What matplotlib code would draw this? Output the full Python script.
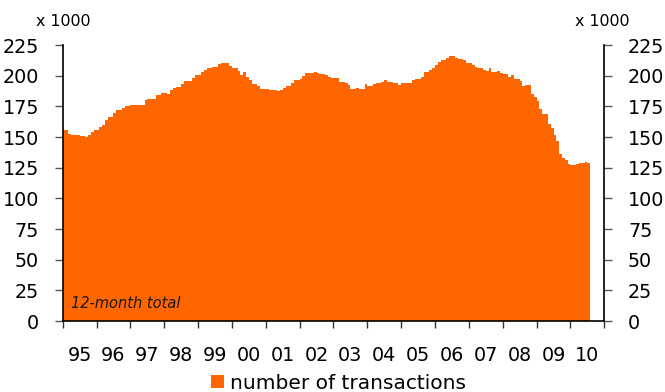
import numpy as np
import matplotlib
matplotlib.use('Agg')
import matplotlib.pyplot as plt

# 12-month total number of transactions, x 1000, monthly from Jan 1995 to Jul 2010
y1995 = [156, 156, 152.7, 152, 152, 152, 151, 151, 150, 152, 154, 156]
y1996 = [156, 158, 160, 164, 166, 166, 170, 172, 172, 174, 175.4, 175.4]
y1997 = [176.5, 176.5, 176.5, 176.5, 176.5, 180, 181, 181.4, 181.4, 184, 184, 186]
y1998 = [186, 185.5, 188.5, 190, 191, 191, 193.4, 195.5, 195.5, 195.5, 198.5, 201]
y1999 = [201, 203, 205, 206.7, 206.7, 207, 207, 209.5, 210, 210, 210, 208]
y2000 = [206.7, 206.7, 203.7, 200.5, 203, 199, 196.4, 193, 193, 191.7, 189.5, 189.5]
y2001 = [189.5, 188.7, 188, 188, 187.4, 188, 190, 192, 192, 194, 196.4, 196.4]
y2002 = [197, 199.6, 202.6, 202.6, 202.6, 203, 202.6, 201.8, 201.8, 200.5, 199, 198.5]
y2003 = [198.5, 198.5, 194.5, 194.5, 193.7, 192.3, 189, 189, 190, 189.5, 189.5, 193]
y2004 = [191.7, 191.7, 193, 194.2, 194.2, 195, 196.4, 195, 195, 193.7, 194.2, 192.3]
y2005 = [193.7, 193.7, 194.2, 194.2, 196.4, 197, 197, 199, 203, 203, 204.5, 206.5]
y2006 = [209, 211.4, 212.7, 212.7, 214.6, 216, 216, 214.8, 213.5, 213.5, 212.7, 210]
y2007 = [210, 209, 207.3, 206, 206, 204.5, 203.7, 206, 203, 203, 204, 202.4]
y2008 = [201.5, 201.5, 199, 201, 197.7, 197.7, 195.8, 191.7, 192.3, 192.3, 185.5, 182.7]
y2009 = [179.2, 173.2, 169, 169, 161, 157.4, 151.4, 146.5, 136.5, 133, 131, 128.2]
y2010 = [127.4, 127.4, 128.2, 128.7, 128.7, 129.6, 128.7]

values = (y1995 + y1996 + y1997 + y1998 + y1999 + y2000 + y2001 + y2002 +
          y2003 + y2004 + y2005 + y2006 + y2007 + y2008 + y2009 + y2010)
year_labels = ['95', '96', '97', '98', '99', '00', '01', '02', '03', '04',
               '05', '06', '07', '08', '09', '10']
y_ticks = [0, 25, 50, 75, 100, 125, 150, 175, 200, 225]

orange = '#FF6600'

fig = plt.figure(figsize=(6.65, 3.92), dpi=100)
ax = fig.add_axes([0.0943, 0.181, 0.8144, 0.704])

months = np.arange(len(values))
bars = ax.bar(months + 0.5, values, width=1.0, color=orange, linewidth=0,
              label='number of transactions')

ax.set_xlim(0, 16 * 12)
ax.set_ylim(0, 225)

# year boundaries as ticks, labels in the middle of each year
ax.set_xticks(np.arange(0, 16 * 12 + 1, 12))
ax.set_xticklabels([])
ax.set_xticks(np.arange(6, 16 * 12, 12), minor=True)
ax.set_xticklabels(year_labels, minor=True)
ax.tick_params(axis='x', which='major', direction='out', length=5, width=1, color='#333333')
ax.tick_params(axis='x', which='minor', length=0, pad=18, labelsize=13.8)

ax.set_yticks(y_ticks)
ax.tick_params(axis='y', direction='out', length=6, width=1, color='#555555',
               labelsize=13.8, pad=11, right=True, labelright=True)

ax.spines['top'].set_visible(False)
for s in ['left', 'right', 'bottom']:
    ax.spines[s].set_linewidth(1.2)
    ax.spines[s].set_color('black')

fig.text(63 / 665, 1 - 21 / 392, 'x 1000', ha='center', va='center', fontsize=11.4)
fig.text(602 / 665, 1 - 21 / 392, 'x 1000', ha='center', va='center', fontsize=11.4)

ax.text(0.016, 0.065, '12-month total', transform=ax.transAxes, style='italic',
        fontsize=10.5, color='#1a1a1a', ha='left', va='center')

fig.legend(handles=[bars], loc='center', bbox_to_anchor=(0.509, 0.022), frameon=False,
           fontsize=14.5, handlelength=0.6, handleheight=0.6, handletextpad=0.3,
           borderpad=0, borderaxespad=0)

fig.savefig('out.png', dpi=100)
